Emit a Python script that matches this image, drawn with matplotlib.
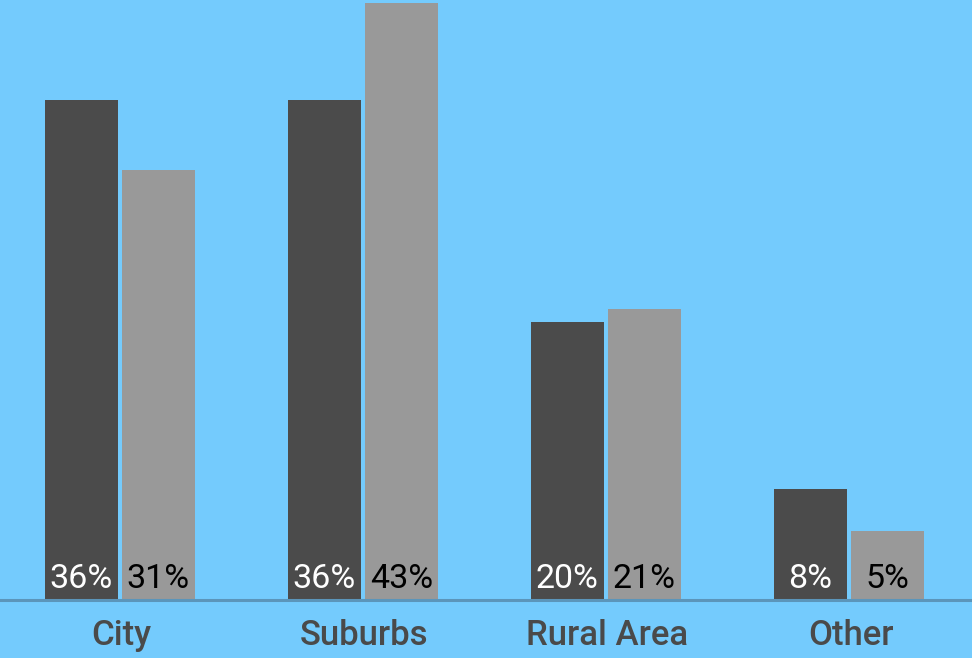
import matplotlib
matplotlib.use("Agg")
import matplotlib.pyplot as plt
import numpy as np

categories = ["City", "Suburbs", "Rural Area", "Other"]
series_a = [36, 36, 20, 8]
series_b = [31, 43, 21, 5]
labels_a = ["36%", "36%", "20%", "8%"]
labels_b = ["31%", "43%", "21%", "5%"]

bg = "#74CBFD"
fig = plt.figure(figsize=(9.72, 6.58), dpi=100, facecolor=bg)
ax = fig.add_axes([0, 58/658, 1, 600/658])
ax.set_facecolor(bg)

x = np.arange(len(categories))
w = 0.30
ax.bar(x - 0.166, series_a, width=w, color="#4B4B4B")
ax.bar(x + 0.152, series_b, width=w, color="#999999")

for i in range(len(categories)):
    ax.text(x[i] - 0.166, 0.85, labels_a[i], ha="center", va="baseline",
            color="white", fontsize=24.5, family="Roboto")
    ax.text(x[i] + 0.152, 0.85, labels_b[i], ha="center", va="baseline",
            color="black", fontsize=24.5, family="Roboto")

ax.set_xlim(-0.5, 3.5)
ax.set_ylim(0, 600/13.88)
for s in ax.spines.values():
    s.set_visible(False)
ax.axhline(0, color="#5B95BA", lw=2.2, clip_on=False)
ax.set_yticks([])
ax.set_xticks(x)
ax.set_xticklabels(categories, fontsize=25, family="Roboto", fontweight="medium", color="#4A4A4A")
ax.tick_params(axis="x", length=0, pad=14)

fig.savefig("out.png", dpi=100, facecolor=bg)
